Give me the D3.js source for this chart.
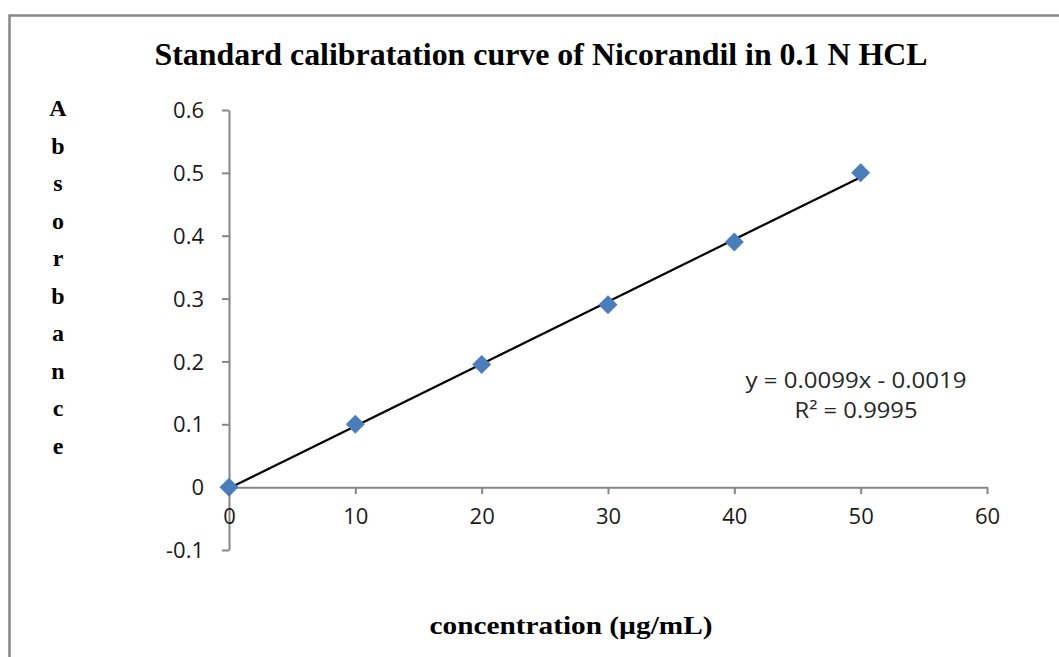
<!DOCTYPE html>
<html>
<head>
<meta charset="utf-8">
<script src="https://cdn.jsdelivr.net/npm/d3@7"></script>
<style>
  body { margin: 0; background: #fff; }
  svg { display: block; }
</style>
</head>
<body>
<div id="chart"></div>
<script>
// data
const concentration = [0, 10, 20, 30, 40, 50];
const absorbance = [0, 0.1, 0.195, 0.29, 0.39, 0.5];
const xTicks = [0, 10, 20, 30, 40, 50, 60];
const yTicks = [-0.1, 0, 0.1, 0.2, 0.3, 0.4, 0.5, 0.6];
const slope = 0.0099;
const intercept = -0.0019;
const equationLines = ["y = 0.0099x - 0.0019", "R\u00B2 = 0.9995"];

const width = 1059;
const height = 657;

const svg = d3.select('#chart')
    .append('svg')
    .attr('width', width)
    .attr('height', height);

// outer chart border (cropped on the right and bottom)
svg.append('rect')
    .attr('x', 9.5)
    .attr('y', 15.5)
    .attr('width', 1200)
    .attr('height', 800)
    .attr('fill', 'none')
    .attr('stroke', '#878787')
    .attr('stroke-width', 2.5);

const x = d3.scaleLinear().domain([0, 60]).range([229, 987]);
const y = d3.scaleLinear().domain([-0.1, 0.6]).range([550, 110]);

const axisColor = '#868686';
const tickFont = '"Open Sans", "Liberation Sans", sans-serif';

// y axis
const yAxis = svg.append('g')
    .attr('transform', `translate(${x(0)},0)`)
    .call(d3.axisLeft(y).tickValues(yTicks).tickSize(7).tickSizeOuter(0)
        .tickFormat(d => d3.format('.1~f')(d).replace('\u2212', '-')).tickPadding(18));

// x axis
const xAxis = svg.append('g')
    .attr('transform', `translate(0,${y(0)})`)
    .call(d3.axisBottom(x).tickValues(xTicks).tickSize(7).tickSizeOuter(0)
        .tickFormat(d3.format('d')).tickPadding(19));

[yAxis, xAxis].forEach(g => {
    g.select('.domain').attr('stroke', axisColor).attr('stroke-width', 2);
    g.selectAll('.tick line').attr('stroke', axisColor).attr('stroke-width', 2);
    g.selectAll('.tick text')
        .attr('fill', '#1a1a1a')
        .attr('font-family', tickFont)
        .attr('font-size', 22);
});
yAxis.selectAll('.tick text').attr('dy', '0.35em');
xAxis.selectAll('.tick text').attr('dy', '0.48em');

// trendline
svg.append('line')
    .attr('x1', x(0))
    .attr('y1', y(intercept))
    .attr('x2', x(50))
    .attr('y2', y(slope * 50 + intercept))
    .attr('stroke', '#000')
    .attr('stroke-width', 2.2);

// markers
const points = concentration.map((c, i) => ({ c, a: absorbance[i] }));
svg.selectAll('.pt')
    .data(points)
    .enter()
    .append('path')
    .attr('class', 'pt')
    .attr('d', d3.symbol().type(d3.symbolSquare).size(180))
    .attr('transform', d => `translate(${x(d.c)},${y(d.a)}) rotate(45)`)
    .attr('fill', '#4A7EBB');

// trendline equation
const eqWidths = [221, 123];
svg.selectAll('.eq')
    .data(equationLines)
    .enter()
    .append('text')
    .attr('class', 'eq')
    .attr('x', 856)
    .attr('y', (d, i) => 388 + i * 30)
    .attr('text-anchor', 'middle')
    .attr('font-family', tickFont)
    .attr('font-size', 21)
    .attr('textLength', (d, i) => eqWidths[i])
    .attr('lengthAdjust', 'spacingAndGlyphs')
    .attr('fill', '#262626')
    .text(d => d);

// title
svg.append('text')
    .attr('x', 541)
    .attr('y', 65)
    .attr('text-anchor', 'middle')
    .attr('font-family', '"Liberation Serif", "Times New Roman", serif')
    .attr('font-weight', 'bold')
    .attr('font-size', 31)
    .attr('textLength', 773)
    .attr('lengthAdjust', 'spacingAndGlyphs')
    .attr('fill', '#000')
    .text('Standard calibratation  curve of Nicorandil in 0.1 N HCL');

// vertical stacked y label
const yLabel = 'Absorbance'.split('');
svg.selectAll('.ylab')
    .data(yLabel)
    .enter()
    .append('text')
    .attr('class', 'ylab')
    .attr('x', 58)
    .attr('y', (d, i) => 116 + i * 37.5)
    .attr('text-anchor', 'middle')
    .attr('font-family', '"Liberation Serif", "Times New Roman", serif')
    .attr('font-weight', 'bold')
    .attr('font-size', 24)
    .attr('fill', '#000')
    .text(d => d);

// x label
svg.append('text')
    .attr('x', 571)
    .attr('y', 634)
    .attr('text-anchor', 'middle')
    .attr('font-family', '"Liberation Serif", "Times New Roman", serif')
    .attr('font-weight', 'bold')
    .attr('font-size', 26)
    .attr('textLength', 283)
    .attr('lengthAdjust', 'spacingAndGlyphs')
    .attr('fill', '#000')
    .text('concentration (\u00B5g/mL)');
</script>
</body>
</html>
